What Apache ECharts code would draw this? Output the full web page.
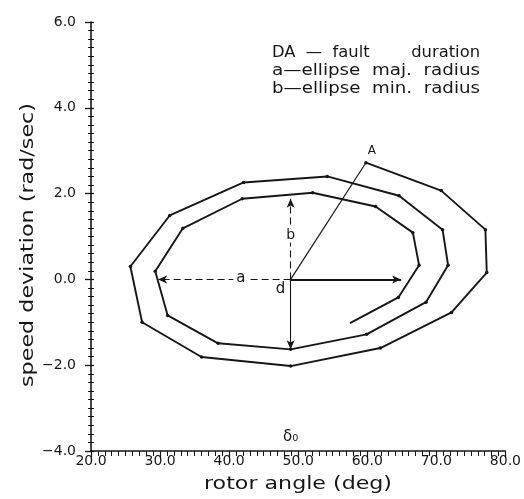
<!DOCTYPE html>
<html>
<head>
<meta charset="utf-8">
<script src="https://cdn.jsdelivr.net/npm/echarts@6/dist/echarts.min.js"></script>
<style>
  html, body { margin: 0; padding: 0; background: #fff; }
  #chart { width: 524px; height: 499px; }
</style>
</head>
<body>
<div id="chart"></div>
<script>
// Rotor trajectory in the (angle, speed deviation) plane, starting at point A
const rotorAngle = [59.8, 70.7, 77.1, 77.3, 72.2, 61.9, 48.9, 36.0, 27.4, 25.7, 31.4, 42.1, 54.2, 64.6, 70.9,
                    71.7, 68.5, 59.9, 48.9, 38.4, 31.1, 29.3, 33.3, 41.9, 52.1, 61.2, 66.6, 67.5, 64.5, 57.5];
const speedDev   = [2.72, 2.07, 1.16, 0.16, -0.77, -1.60, -2.02, -1.81, -1.00, 0.30, 1.49, 2.26, 2.40, 1.95, 1.16,
                    0.33, -0.53, -1.28, -1.63, -1.49, -0.84, 0.19, 1.19, 1.88, 2.02, 1.70, 1.09, 0.33, -0.42, -1.02];

// Ellipse construction: centre d, radius tips and the DA chord
const centre     = [48.9, 0];
const majorLeft  = [29.7, 0];
const majorRight = [64.9, 0];
const minorTop   = [48.9, 1.88];
const minorBot   = [48.9, -1.63];
const pointA     = [59.8, 2.72];
const labelAPos  = [41.7, 0];
const labelBPos  = [48.9, 1.02];
const delta0Pos  = [48.9, -3.67];

// Axis settings
const xTicks = { min: 20, max: 80, step: 10 };
const yTicks = { min: -4, max: 6, step: 2 };

const axisTitleX = 'rotor angle (deg)';
const axisTitleY = 'speed deviation (rad/sec)';
const noteLines = ['DA  —  fault        duration', 'a—ellipse  maj.  radius', 'b—ellipse  min.  radius'];

const ink = '#161616';
const font = 'DejaVu Sans';

// horizontal stretch so a line of text spans the wanted width
const measureCtx = document.createElement('canvas').getContext('2d');
function stretchFor(text, size, width) {
  measureCtx.font = size + 'px "' + font + '"';
  return width / measureCtx.measureText(text).width;
}

const trajectory = rotorAngle.map((x, i) => {
  const item = { value: [x, speedDev[i]] };
  if (i === rotorAngle.length - 1) item.symbol = 'none';
  return item;
});

function seg(a, b, dashed, width) {
  return {
    type: 'line', data: [a, b], symbol: 'none', silent: true,
    lineStyle: { color: ink, width: width || 1, type: dashed ? [7, 4] : 'solid' }, z: 3
  };
}

function arrowLine(a, b, dashed, width) {
  return {
    type: 'line', data: [], silent: true,
    markLine: {
      silent: true, symbol: ['none', 'arrow'], symbolSize: [6, 9],
      label: { show: false },
      lineStyle: { color: ink, width: width || 1, type: dashed ? [7, 4] : 'solid' },
      data: [[{ coord: a }, { coord: b }]]
    }
  };
}

const chart = echarts.init(document.getElementById('chart'));

const fmt = v => (v < 0 ? '−' + Math.abs(v).toFixed(1) : v.toFixed(1));

const noteSize = 16;
const titleSize = 18;

chart.setOption({
  animation: false,
  backgroundColor: '#fff',
  grid: { left: 91, top: 22, width: 420, height: 429 },
  xAxis: {
    type: 'value', min: xTicks.min, max: xTicks.max, interval: xTicks.step,
    axisLine: { onZero: false, lineStyle: { color: ink, width: 1.6 } },
    axisTick: { show: true, length: 6, lineStyle: { color: ink, width: 1.2 } },
    minorTick: { show: true, splitNumber: 10, length: 5, lineStyle: { color: ink, width: 1 } },
    axisLabel: { color: ink, fontFamily: font, fontSize: 14, margin: 3, formatter: fmt },
    splitLine: { show: false }
  },
  yAxis: [{
    type: 'value', min: yTicks.min, max: yTicks.max, interval: yTicks.step,
    axisLine: { onZero: false, lineStyle: { color: ink, width: 1.6 } },
    axisTick: { show: true, length: 6, lineStyle: { color: ink, width: 1.3 } },
    minorTick: { show: true, splitNumber: 10, length: 3, lineStyle: { color: ink, width: 1 } },
    axisLabel: { color: ink, fontFamily: font, fontSize: 14, margin: 15, formatter: fmt },
    splitLine: { show: false }
  }, {
    // inner half of the crossing ticks on the vertical axis
    type: 'value', position: 'left', offset: 0,
    min: yTicks.min, max: yTicks.max, interval: yTicks.step,
    axisLine: { show: false, onZero: false },
    axisTick: { show: true, inside: true, length: 3, lineStyle: { color: ink, width: 1.3 } },
    minorTick: { show: true, splitNumber: 10, length: 3, lineStyle: { color: ink, width: 1 } },
    axisLabel: { show: false },
    splitLine: { show: false }
  }],
  series: [
    {
      type: 'line', data: trajectory, silent: true, z: 4,
      symbol: 'circle', symbolSize: 3.5, showSymbol: true,
      itemStyle: { color: ink },
      lineStyle: { color: ink, width: 1.9 }
    },
    seg(centre, pointA, false, 1.2),
    arrowLine(centre, minorTop, true, 1.1),
    arrowLine(centre, minorBot, false, 1.1),
    arrowLine(centre, majorRight, false, 1.8),
    arrowLine(centre, majorLeft, true, 1.1)
  ]
});

// Annotation letters placed at data positions through the chart's own scales
function labelAt(pos, txt, size, dx, dy, bg) {
  const p = chart.convertToPixel({ gridIndex: 0 }, pos);
  return {
    type: 'text', x: p[0] + dx, y: p[1] + dy, silent: true, z: 100,
    style: {
      text: txt, fill: ink, font: size + 'px "' + font + '"',
      align: 'center', verticalAlign: 'middle',
      backgroundColor: bg || null, padding: bg ? [0, 3] : 0
    }
  };
}

chart.setOption({
  graphic: [
    labelAt(labelAPos, 'a', 15, 0, -1, '#fff'),
    labelAt(labelBPos, 'b', 14, 0, 0, '#fff'),
    labelAt(centre, 'd', 15, -10, 10),
    labelAt(pointA, 'A', 12, 6, -12),
    labelAt(delta0Pos, 'δ₀', 15, 0, 0),
    ...noteLines.map((t, i) => ({
      type: 'text', x: 272, y: 53 + i * 18, silent: true,
      scaleX: stretchFor(t, noteSize, 208),
      style: { text: t, fill: ink, font: noteSize + 'px "' + font + '"', verticalAlign: 'middle' }
    })),
    {
      type: 'text', x: 298, y: 484, silent: true,
      scaleX: stretchFor(axisTitleX, titleSize, 188),
      style: { text: axisTitleX, fill: ink, font: titleSize + 'px "' + font + '"', align: 'center', verticalAlign: 'middle' }
    },
    {
      type: 'text', x: 28, y: 245, rotation: Math.PI / 2, silent: true,
      scaleX: stretchFor(axisTitleY, titleSize, 284),
      style: { text: axisTitleY, fill: ink, font: titleSize + 'px "' + font + '"', align: 'center', verticalAlign: 'middle' }
    }
  ]
});
</script>
</body>
</html>
